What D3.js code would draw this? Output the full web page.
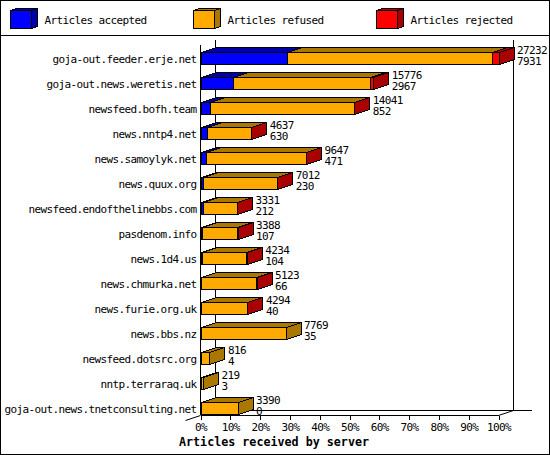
<!DOCTYPE html>
<html>
<head>
<meta charset="utf-8">
<script src="https://cdn.jsdelivr.net/npm/d3@7"></script>
<style>
html, body { margin: 0; padding: 0; background: #fff; }
svg { display: block; }
text { font-family: "DejaVu Sans Mono", monospace; font-size: 11px; letter-spacing: -0.62px; fill: #000; }
.frame line, .frame rect, .bar path, .bar rect, .axis line, .axis path { shape-rendering: crispEdges; }
</style>
</head>
<body>
<svg id="chart" width="550" height="455"></svg>
<script>
var servers = ["goja-out.feeder.erje.net", "goja-out.news.weretis.net", "newsfeed.bofh.team",
    "news.nntp4.net", "news.samoylyk.net", "news.quux.org", "newsfeed.endofthelinebbs.com",
    "pasdenom.info", "news.1d4.us", "news.chmurka.net", "news.furie.org.uk", "news.bbs.nz",
    "newsfeed.dotsrc.org", "nntp.terraraq.uk", "goja-out.news.tnetconsulting.net"];
var totals   = [27232, 15776, 14041, 4637, 9647, 7012, 3331, 3388, 4234, 5123, 4294, 7769, 816, 219, 3390];
var accepted = [7931, 2967, 852, 630, 471, 230, 212, 107, 104, 66, 40, 35, 4, 3, 0];
// rejected is not printed on the chart
var rejected = [560, 270, 30, 20, 25, 20, 10, 10, 90, 15, 10, 0, 0, 0, 0];
var percentTicks = [0, 10, 20, 30, 40, 50, 60, 70, 80, 90, 100];
var legendLabels = ["Articles accepted", "Articles refused", "Articles rejected"];
var xTitle = "Articles received by server";

var colours = [
    {front: "#0000ff", side: "#0000aa"},
    {front: "#ffaa00", side: "#aa7700"},
    {front: "#ff0000", side: "#aa0000"}
];
var depthX = 15, depthY = 5, barHeight = 12;

var svg = d3.select("#chart");

var x = d3.scaleLinear().domain([0, 27232]).range([200.5, 498.5]);
var xPct = d3.scaleLinear().domain([0, 100]).range([200.5, 498.5]);
var y = d3.scaleBand().domain(servers).range([40, 415]);

// outer frame and legend strip
var frame = svg.append("g").attr("class", "frame");
frame.append("rect").attr("x", 0.5).attr("y", 0.5).attr("width", 549).attr("height", 454)
    .attr("fill", "#fff").attr("stroke", "#000");
frame.append("line").attr("x1", 0).attr("x2", 550).attr("y1", 35.5).attr("y2", 35.5).attr("stroke", "#000");

// back wall
frame.append("line").attr("x1", 215.5).attr("x2", 215.5).attr("y1", 40).attr("y2", 410).attr("stroke", "#000");
frame.append("line").attr("x1", 513.5).attr("x2", 513.5).attr("y1", 40).attr("y2", 410).attr("stroke", "#000");
frame.append("line").attr("x1", 215).attr("x2", 532).attr("y1", 410.5).attr("y2", 410.5).attr("stroke", "#000");
svg.append("line").attr("x1", 498.5).attr("x2", 513.5).attr("y1", 415.5).attr("y2", 410.5).attr("stroke", "#000");
svg.append("line").attr("x1", 185.5).attr("x2", 200.5).attr("y1", 420.5).attr("y2", 415.5).attr("stroke", "#000");

function box(g, x0, x1, top, height, colour, showSide) {
    var x2 = x1 + depthX;
    var t = top - depthY;
    g.append("path")
        .attr("d", "M" + x0 + "," + top + "L" + (x0 + depthX) + "," + t + "L" + x2 + "," + t + "L" + x1 + "," + top + "Z")
        .attr("fill", colour.side).attr("stroke", "#000");
    if (showSide) {
        g.append("path")
            .attr("d", "M" + x1 + "," + top + "L" + x2 + "," + t + "L" + x2 + "," + (t + height) + "L" + x1 + "," + (top + height) + "Z")
            .attr("fill", colour.side).attr("stroke", "#000");
    }
    g.append("rect").attr("x", x0).attr("y", top).attr("width", x1 - x0).attr("height", height)
        .attr("fill", colour.front).attr("stroke", "#000");
}

// bars, stacked accepted / refused / rejected
servers.forEach(function(name, i) {
    var g = svg.append("g").attr("class", "bar");
    var top = y(name) + y.step() - barHeight - 0.5;
    var parts = [accepted[i], totals[i] - accepted[i] - rejected[i], rejected[i]];
    var sum = 0;
    var last = 0;
    parts.forEach(function(v, k) { if (v > 0) last = k; });
    parts.forEach(function(v, k) {
        if (v <= 0) return;
        var x0 = Math.round(x(sum)) + 0.5;
        var x1 = Math.round(x(sum + v)) + 0.5;
        box(g, x0, x1, top, barHeight, colours[k], k == last);
        sum += v;
    });

    var labelX = x(totals[i]) + depthX + 3.5;
    svg.append("text").attr("x", labelX).attr("y", top + 1).text(totals[i]);
    svg.append("text").attr("x", labelX).attr("y", top + 12).text(accepted[i]);
});

// axes
var xAxis = d3.axisBottom(xPct).tickValues(percentTicks).tickSize(4).tickPadding(4)
    .tickFormat(function(d) { return d + "%"; });
var gx = svg.append("g").attr("class", "axis").attr("transform", "translate(0,415.5)").call(xAxis);
gx.select(".domain").attr("d", "M200.5,0H498.5");
gx.attr("font-size", null).attr("font-family", null);
gx.selectAll("line").attr("stroke", "#000");

var yAxis = d3.axisLeft(y).tickSize(0).tickPadding(4);
var gy = svg.append("g").attr("class", "axis").attr("transform", "translate(200.5,0)").call(yAxis);
gy.select(".domain").attr("d", "M0,45V415");
gy.attr("font-size", null).attr("font-family", null);
gy.selectAll("g.tick").attr("transform", function(d) { return "translate(0," + (y(d) + y.step() - 5.5) + ")"; });

// legend
var legendX = [10.5, 193.5, 376.5];
legendLabels.forEach(function(label, i) {
    var g = svg.append("g").attr("class", "bar");
    var front = legendX[i];
    g.append("path")
        .attr("d", "M" + front + ",10.5L" + (front + 6) + ",8.5H" + (front + 27) + "L" + (front + 21) + ",10.5Z")
        .attr("fill", colours[i].side).attr("stroke", "#000");
    g.append("path")
        .attr("d", "M" + (front + 21) + ",10.5L" + (front + 27) + ",8.5V26.5L" + (front + 21) + ",28.5Z")
        .attr("fill", colours[i].side).attr("stroke", "#000");
    g.append("rect").attr("x", front).attr("y", 10.5).attr("width", 21).attr("height", 18)
        .attr("fill", colours[i].front).attr("stroke", "#000");
    svg.append("text").attr("x", front + 34).attr("y", 24).text(label);
});

svg.append("text").attr("x", 274).attr("y", 446).attr("text-anchor", "middle")
    .style("font-size", "11.7px").style("letter-spacing", "0").style("font-weight", "bold").text(xTitle);
</script>
</body>
</html>
